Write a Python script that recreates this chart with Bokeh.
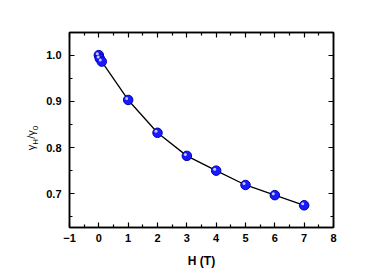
import numpy as np
from bokeh.plotting import figure
from bokeh.layouts import row
from bokeh.models import LinearAxis, FixedTicker, Range1d, NumeralTickFormatter, Div
from bokeh.embed import file_html
from bokeh.resources import INLINE

# data
field_T = [0.0, 0.03, 0.1, 1.0, 2.0, 3.0, 4.0, 5.0, 6.0, 7.0]
gamma_ratio = [1.000, 0.993, 0.986, 0.903, 0.832, 0.782, 0.750, 0.719, 0.697, 0.675]
x_major = [-1, 0, 1, 2, 3, 4, 5, 6, 7, 8]
x_minor = [-0.5, 0.5, 1.5, 2.5, 3.5, 4.5, 5.5, 6.5, 7.5]
y_major = [0.7, 0.8, 0.9, 1.0]
y_minor = [0.65, 0.75, 0.85, 0.95, 1.05]

XMIN, XMAX = -1.0, 8.0
YMIN, YMAX = 0.627, 1.049
FW, FH = 264, 195
DIV_W = 40

p = figure(width=386 - DIV_W, height=273,
           x_range=Range1d(XMIN, XMAX), y_range=Range1d(YMIN, YMAX),
           output_backend="svg", toolbar_location=None,
           x_axis_location=None, y_axis_location=None,
           min_border_left=69 - DIV_W, min_border_right=53,
           min_border_top=32, min_border_bottom=46)
p.margin = 0
p.background_fill_color = "white"
p.border_fill_color = "white"
p.outline_line_color = "black"
p.outline_line_width = 1.5
p.xgrid.visible = False
p.ygrid.visible = False

def style(ax, labels=True):
    ax.axis_line_width = 1.5
    ax.axis_line_color = "black"
    ax.major_tick_in = 5
    ax.major_tick_out = 0
    ax.minor_tick_in = 3
    ax.minor_tick_out = 0
    ax.major_tick_line_width = 1.2
    ax.minor_tick_line_width = 1.2
    ax.major_label_text_font = "Liberation Sans"
    ax.major_label_text_font_style = "bold"
    ax.major_label_text_font_size = "11px"
    ax.major_label_text_color = "black" if labels else None
    ax.major_label_standoff = 8

xt = FixedTicker(ticks=x_major, minor_ticks=x_minor)
yt = FixedTicker(ticks=y_major, minor_ticks=y_minor)

bottom = LinearAxis(ticker=xt, axis_label="H (T)")
style(bottom)
bottom.major_label_standoff = 6
bottom.axis_label_text_font = "Liberation Sans"
bottom.axis_label_text_font_style = "bold"
bottom.axis_label_text_font_size = "12px"
bottom.axis_label_text_color = "black"
bottom.axis_label_standoff = 9
p.add_layout(bottom, "below")

top = LinearAxis(ticker=xt)
style(top, labels=False)
top.major_label_text_font_size = "0px"
top.major_label_standoff = 0
p.add_layout(top, "above")

left = LinearAxis(ticker=yt, formatter=NumeralTickFormatter(format="0.0"))
style(left)
p.add_layout(left, "left")

right = LinearAxis(ticker=yt)
style(right, labels=False)
right.major_label_text_font_size = "0px"
right.major_label_standoff = 0
p.add_layout(right, "right")

# curve and spheres
p.line(field_T[2:], gamma_ratio[2:], line_color="black", line_width=1.3)
p.scatter(field_T, gamma_ratio, marker="circle", size=9.5,
          fill_color="#1a1aff", line_color="#0000b0", line_width=1)
dx = 1.5 * (XMAX - XMIN) / FW
dy = 1.5 * (YMAX - YMIN) / FH
p.scatter([h - dx for h in field_T], [g + dy for g in gamma_ratio], marker="circle",
          size=3, fill_color="#c8c8ff", line_color=None)

# rotated y-axis label with real subscripts
ylabel_html = (
    '<div style="position:absolute;left:33px;top:138px;'
    'transform:translate(-50%,-50%) rotate(-90deg);'
    "font-family:'Liberation Sans',Arial,sans-serif;font-size:11px;"
    'white-space:nowrap;color:black;line-height:1;">'
    'γ<sub style="font-size:8px">H</sub>/γ<sub style="font-size:8px">0</sub></div>'
)
ylab = Div(text=ylabel_html, width=DIV_W, height=273, margin=0,
           styles={"position": "relative", "overflow": "visible"})

layout = row(ylab, p, spacing=0, margin=0)
open("out.html", "w").write(file_html(layout, INLINE))
